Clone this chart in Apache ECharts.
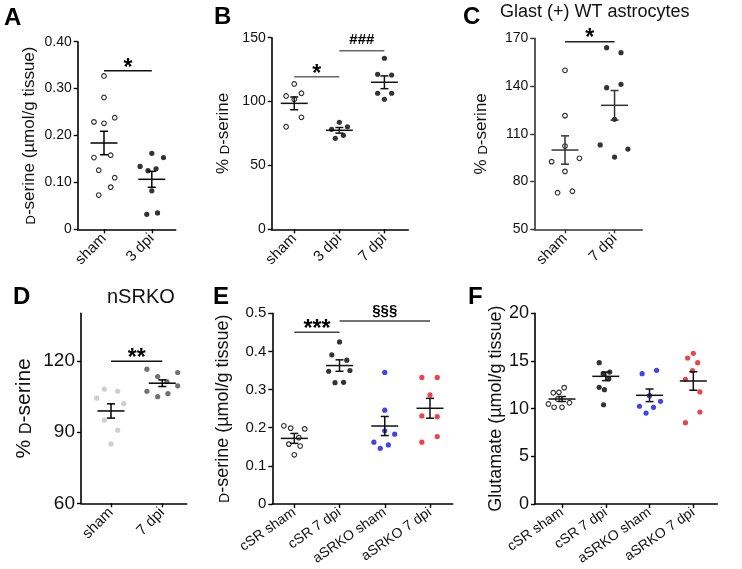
<!DOCTYPE html>
<html><head><meta charset="utf-8">
<script src="https://cdn.jsdelivr.net/npm/echarts@6/dist/echarts.min.js"></script>
<style>html,body{margin:0;padding:0;background:#fff}#c{width:742px;height:569px}</style>
</head><body><div id="c"></div>
<script>
const FONT = '"Liberation Sans", Arial, Helvetica, sans-serif';

// ---------------- DATA ----------------
// Panel A: D-serine (µmol/g tissue)
const aCategories = ['sham', '3 dpi'];
const aSham = [0.327, 0.281, 0.229, 0.226, 0.238, 0.153, 0.158, 0.126, 0.110, 0.090, 0.073];
const aShamJitter = [0, 0, -0.21, 0, 0.225, -0.21, 0.14, -0.11, 0.225, 0.14, -0.11];
const a3dpi = [0.162, 0.153, 0.134, 0.125, 0.129, 0.082, 0.032, 0.035];
const a3dpiJitter = [0, 0.245, -0.245, -0.08, 0.09, 0, -0.105, 0.12];
const aMeans = [0.184, 0.1066];
const aSems = [0.025, 0.017];
const aTicks = [0, 0.1, 0.2, 0.3, 0.4];
const aSig = [[1, 2, 0.338]];
const aSigLabels = ['*'];

// Panel B: % D-serine
const bCategories = ['sham', '3 dpi', '7 dpi'];
const bSham = [113.8, 104.4, 106.5, 101.8, 87.7, 80.3];
const bShamJitter = [0, -0.18, 0.16, 0, 0.16, -0.18];
const b3dpi = [83.8, 78.3, 80.3, 73.6, 71.2];
const b3dpiJitter = [0, -0.17, 0.18, 0.09, -0.09];
const b7dpi = [133.9, 121.3, 120.8, 106.5, 106.5, 101.8];
const b7dpiJitter = [0, -0.15, 0.16, -0.15, 0.16, 0];
const bMeans = [98.6, 77.5, 115.1];
const bSems = [5.0, 2.2, 5.0];
const bTicks = [0, 50, 100, 150];
const bSig = [[1, 2, 119.5], [2, 3, 139.8]];
const bSigLabels = ['*', '###'];

// Panel C: Glast (+) WT astrocytes, % D-serine
const cCategories = ['sham', '7 dpi'];
const cSham = [149.9, 121.4, 102.3, 92.5, 94.6, 86.4, 73.0, 73.9];
const cShamJitter = [0, 0, 0, -0.27, 0.29, 0, -0.15, 0.15];
const c7dpi = [164.1, 161.0, 139.0, 141.1, 119.1, 103.0, 100.4, 95.4];
const c7dpiJitter = [-0.16, 0.13, -0.16, 0.13, 0, -0.29, 0.27, 0];
const cMeans = [99.8, 127.9];
const cSems = [8.9, 9.3];
const cTicks = [50, 80, 110, 140, 170];
const cSig = [[1, 2, 167.9]];
const cSigLabels = ['*'];

// Panel D: nSRKO, % D-serine
const dCategories = ['sham', '7 dpi'];
const dSham = [108.1, 107.2, 104.3, 102.0, 95.0, 90.8, 85.0];
const dShamJitter = [-0.13, 0.13, -0.28, 0.25, -0.13, 0.13, 0];
const d7dpi = [116.5, 115.1, 113.4, 111.3, 109.5, 107.2, 106.2, 104.9];
const d7dpiJitter = [-0.3, 0.3, -0.09, 0.09, 0.3, -0.3, 0.11, -0.09];
const dMeans = [98.9, 110.6];
const dSems = [3.0, 1.4];
const dTicks = [60, 90, 120];
const dSig = [[1, 2, 119.8]];
const dSigLabels = ['**'];

// Panel E: D-serine (µmol/g tissue)
const eCategories = ['cSR sham', 'cSR 7 dpi', 'aSRKO sham', 'aSRKO 7 dpi'];
const eCsrSham = [0.205, 0.199, 0.197, 0.174, 0.157, 0.152, 0.129];
const eCsrShamJitter = [-0.23, -0.08, 0.23, 0.1, -0.12, 0.13, 0];
const eCsr7dpi = [0.425, 0.391, 0.377, 0.348, 0.350, 0.318, 0.319];
const eCsr7dpiJitter = [0, -0.17, 0.16, -0.24, 0.23, -0.1, 0.09];
const eKoSham = [0.345, 0.246, 0.192, 0.183, 0.162, 0.155, 0.146];
const eKoShamJitter = [0, 0, 0, 0.22, -0.24, 0.08, -0.1];
const eKo7dpi = [0.332, 0.332, 0.286, 0.231, 0.229, 0.177, 0.162];
const eKo7dpiJitter = [-0.18, 0.16, 0, -0.18, 0.16, 0.16, -0.18];
const eMeans = [0.172, 0.363, 0.2045, 0.251];
const eSems = [0.013, 0.015, 0.025, 0.026];
const eTicks = [0, 0.1, 0.2, 0.3, 0.4, 0.5];
const eSig = [[1, 2, 0.45], [2, 4, 0.48]];
const eSigLabels = ['***', '§§§'];

// Panel F: Glutamate (µmol/g tissue)
const fCategories = ['cSR sham', 'cSR 7 dpi', 'aSRKO sham', 'aSRKO 7 dpi'];
const fCsrSham = [12.20, 11.67, 11.71, 11.01, 10.49, 10.62, 10.14, 10.14];
const fCsrShamJitter = [0.05, -0.2, -0.07, -0.1, -0.31, 0.17, -0.18, 0];
const fCsr7dpi = [14.82, 13.84, 13.67, 13.14, 12.24, 11.99, 10.41];
const fCsr7dpiJitter = [-0.15, 0.09, -0.06, 0.07, -0.15, -0.03, -0.05];
const fKoSham = [13.67, 14.02, 11.36, 10.77, 10.25, 10.14, 9.54];
const fKoShamJitter = [-0.17, 0.16, 0, 0.25, -0.23, 0.09, -0.08];
const fKo7dpi = [15.80, 15.31, 14.82, 13.98, 13.08, 11.75, 9.65, 8.53];
const fKo7dpiJitter = [0, -0.13, 0.1, -0.02, -0.18, 0.15, 0.15, -0.18];
const fMeans = [11.01, 13.39, 11.40, 12.90];
const fSems = [0.26, 0.45, 0.66, 0.97];
const fTicks = [0, 5, 10, 15, 20];

// ---------------- LAYOUT / STYLE ----------------
const OPEN = {hollow: true, color: '#000'};
const panels = [
  {left: 77.7, top: 41.7, width: 98, height: 187.6, xMin: 0.45, xMax: 2.5, yMin: 0, yMax: 0.4,
   ticks: aTicks, fmt: v => v === 0 ? '0' : v.toFixed(2), yFont: 14,
   name: '{sc|D}-serine (µmol/g tissue)', nameFont: 17, nameGap: 40,
   cats: aCategories, xFont: 15, rot: 45,
   groups: [[aSham, aShamJitter, OPEN], [a3dpi, a3dpiJitter, {color: '#000'}]],
   means: aMeans, sems: aSems, meanColor: '#000', sig: aSig, sigLabels: aSigLabels, sigColor: '#111'},
  {left: 271.7, top: 37.7, width: 136.6, height: 191.6, xMin: 0.5, xMax: 3.53, yMin: 0, yMax: 150,
   ticks: bTicks, fmt: v => String(v), yFont: 14,
   name: '% {sc|D}-serine', nameFont: 17, nameGap: 40,
   cats: bCategories, xFont: 15, rot: 45,
   groups: [[bSham, bShamJitter, OPEN], [b3dpi, b3dpiJitter, {color: '#000'}], [b7dpi, b7dpiJitter, {color: '#000'}]],
   means: bMeans, sems: bSems, meanColor: '#111', sig: bSig, sigLabels: bSigLabels, sigColor: '#666'},
  {left: 534.3, top: 38.3, width: 108, height: 191, xMin: 0.38, xMax: 2.56, yMin: 50, yMax: 170,
   ticks: cTicks, fmt: v => String(v), yFont: 14,
   name: '% {sc|D}-serine', nameFont: 17, nameGap: 44,
   cats: cCategories, xFont: 15, rot: 45, axisColor: '#333',
   groups: [[cSham, cShamJitter, OPEN], [c7dpi, c7dpiJitter, {color: '#000'}]],
   means: cMeans, sems: cSems, meanColor: '#333', sig: cSig, sigLabels: cSigLabels, sigColor: '#222'},
  {left: 81, top: 313.4, width: 105.7, height: 189.9, xMin: 0.415, xMax: 2.476, yMin: 60, yMax: 140,
   ticks: dTicks, fmt: v => String(v), yFont: 19,
   name: '% {sc|D}-serine', nameFont: 21, nameGap: 46,
   cats: dCategories, xFont: 15, rot: 45,
   groups: [[dSham, dShamJitter, {color: '#c2c2c2'}], [d7dpi, d7dpiJitter, {color: '#4d4d4d'}]],
   means: dMeans, sems: dSems, meanColor: '#000', sig: dSig, sigLabels: dSigLabels, sigColor: '#111'},
  {left: 272.3, top: 313.3, width: 180.4, height: 190.7, xMin: 0.514, xMax: 4.502, yMin: 0, yMax: 0.5,
   ticks: eTicks, fmt: v => v === 0 ? '0' : v.toFixed(1), yFont: 15,
   name: '{sc|D}-serine (µmol/g tissue)', nameFont: 18, nameGap: 40,
   cats: eCategories, xFont: 14, rot: 35,
   groups: [[eCsrSham, eCsrShamJitter, OPEN], [eCsr7dpi, eCsr7dpiJitter, {color: '#000'}],
            [eKoSham, eKoShamJitter, {color: '#1414e6'}], [eKo7dpi, eKo7dpiJitter, {color: '#e8141c'}]],
   means: eMeans, sems: eSems, meanColor: '#111', sig: eSig, sigLabels: eSigLabels, sigColor: '#444'},
  {left: 535, top: 313.3, width: 182.3, height: 190.7, xMin: 0.383, xMax: 4.548, yMin: 0, yMax: 20,
   ticks: fTicks, fmt: v => String(v), yFont: 18,
   name: 'Glutamate (µmol/g tissue)', nameFont: 18, nameGap: 30,
   cats: fCategories, xFont: 14, rot: 35,
   groups: [[fCsrSham, fCsrShamJitter, OPEN], [fCsr7dpi, fCsr7dpiJitter, {color: '#000'}],
            [fKoSham, fKoShamJitter, {color: '#1414e6'}], [fKo7dpi, fKo7dpiJitter, {color: '#e8141c'}]],
   means: fMeans, sems: fSems, meanColor: '#111', sig: [], sigLabels: [], sigColor: '#444'}
];

const grid = [], xAxis = [], yAxis = [], series = [];
panels.forEach((p, k) => {
  const ac = p.axisColor || '#000';
  grid.push({left: p.left, top: p.top, width: p.width, height: p.height, containLabel: false});
  xAxis.push({
    type: 'value', gridIndex: k, min: p.xMin, max: p.xMax, splitLine: {show: false},
    axisLine: {show: true, onZero: false, lineStyle: {color: ac, width: 1.6}},
    axisTick: {show: true, length: 4, lineStyle: {color: ac, width: 1.4}, customValues: p.cats.map((c, i) => i + 1)},
    axisLabel: {customValues: p.cats.map((c, i) => i + 1), rotate: p.rot, margin: 7,
      formatter: v => p.cats[Math.round(v) - 1] || '', fontFamily: FONT, fontSize: p.xFont, color: '#111'}
  });
  yAxis.push({
    type: 'value', gridIndex: k, min: p.yMin, max: p.yMax, splitLine: {show: false},
    axisLine: {show: true, lineStyle: {color: ac, width: 1.6}},
    axisTick: {show: true, length: 4, lineStyle: {color: ac, width: 1.4}, customValues: p.ticks},
    axisLabel: {customValues: p.ticks, formatter: p.fmt, fontFamily: FONT, fontSize: p.yFont, color: '#111', margin: 6},
    name: p.name, nameLocation: 'middle', nameGap: p.nameGap,
    nameTextStyle: {fontFamily: FONT, fontSize: p.nameFont, color: '#111', lineHeight: p.nameFont, verticalAlign: 'bottom',
      rich: {sc: {fontFamily: FONT, fontSize: Math.round(p.nameFont * 0.78), lineHeight: Math.round(p.nameFont * 0.78), verticalAlign: 'bottom', color: '#111'}}}
  });
  p.groups.forEach((g, gi) => {
    const [vals, jit, st] = g;
    series.push({
      type: 'scatter', xAxisIndex: k, yAxisIndex: k, silent: true, z: 3,
      symbol: 'circle', symbolSize: st.hollow ? 4.6 : 5.2,
      itemStyle: st.hollow ? {color: '#fff', borderColor: st.color, borderWidth: 1.2} : {color: st.color},
      data: vals.map((v, i) => [gi + 1 + jit[i], v])
    });
  });
  series.push({
    type: 'custom', xAxisIndex: k, yAxisIndex: k, silent: true, z: 5,
    data: p.means.map((m, i) => [i + 1, m, p.sems[i]]),
    renderItem: (params, api) => {
      const x = api.value(0), m = api.value(1), s = api.value(2);
      const c = api.coord([x, m]), t = api.coord([x, m + s]), b = api.coord([x, m - s]);
      const st = {stroke: p.meanColor, lineWidth: 1.5};
      return {type: 'group', children: [
        {type: 'line', shape: {x1: c[0] - 13.5, y1: c[1], x2: c[0] + 13.5, y2: c[1]}, style: st},
        {type: 'line', shape: {x1: t[0], y1: t[1], x2: b[0], y2: b[1]}, style: st},
        {type: 'line', shape: {x1: t[0] - 4, y1: t[1], x2: t[0] + 4, y2: t[1]}, style: st},
        {type: 'line', shape: {x1: b[0] - 4, y1: b[1], x2: b[0] + 4, y2: b[1]}, style: st}
      ]};
    }
  });
  if (p.sig.length) {
    series.push({
      type: 'custom', xAxisIndex: k, yAxisIndex: k, silent: true, z: 5, clip: false,
      data: p.sig,
      renderItem: (params, api) => {
        const lab = p.sigLabels[params.dataIndex];
        const y = api.value(2);
        const p1 = api.coord([api.value(0), y]), p2 = api.coord([api.value(1), y]);
        const star = lab.indexOf('*') >= 0;
        return {type: 'group', children: [
          {type: 'line', shape: {x1: p1[0], y1: p1[1], x2: p2[0], y2: p2[1]}, style: {stroke: p.sigColor, lineWidth: 1.5}},
          {type: 'text', x: (p1[0] + p2[0]) / 2, y: p1[1] + (star ? 9 : -3),
           style: {text: lab, align: 'center', verticalAlign: 'bottom',
                   font: 'bold ' + (star ? 23 : 15) + 'px ' + FONT, fill: '#000'}}
        ]};
      }
    });
  }
});

const letter = (t, x, y) => ({type: 'text', left: x, top: y, style: {text: t, font: 'bold 24px ' + FONT, fill: '#000'}});
const graphic = [
  letter('A', 4, 6), letter('B', 214, 5), letter('C', 463, 5),
  letter('D', 13, 285), letter('E', 213, 285), letter('F', 468, 285),
  {type: 'text', left: 500, top: 3, style: {text: 'Glast (+) WT astrocytes', font: '18px ' + FONT, fill: '#111'}},
  {type: 'text', left: 107, top: 287, style: {text: 'nSRKO', font: '20px ' + FONT, fill: '#111'}}
];

const chart = echarts.init(document.getElementById('c'), null, {renderer: 'canvas'});
chart.setOption({animation: false, backgroundColor: '#fff', grid, xAxis, yAxis, series, graphic});
</script></body></html>
